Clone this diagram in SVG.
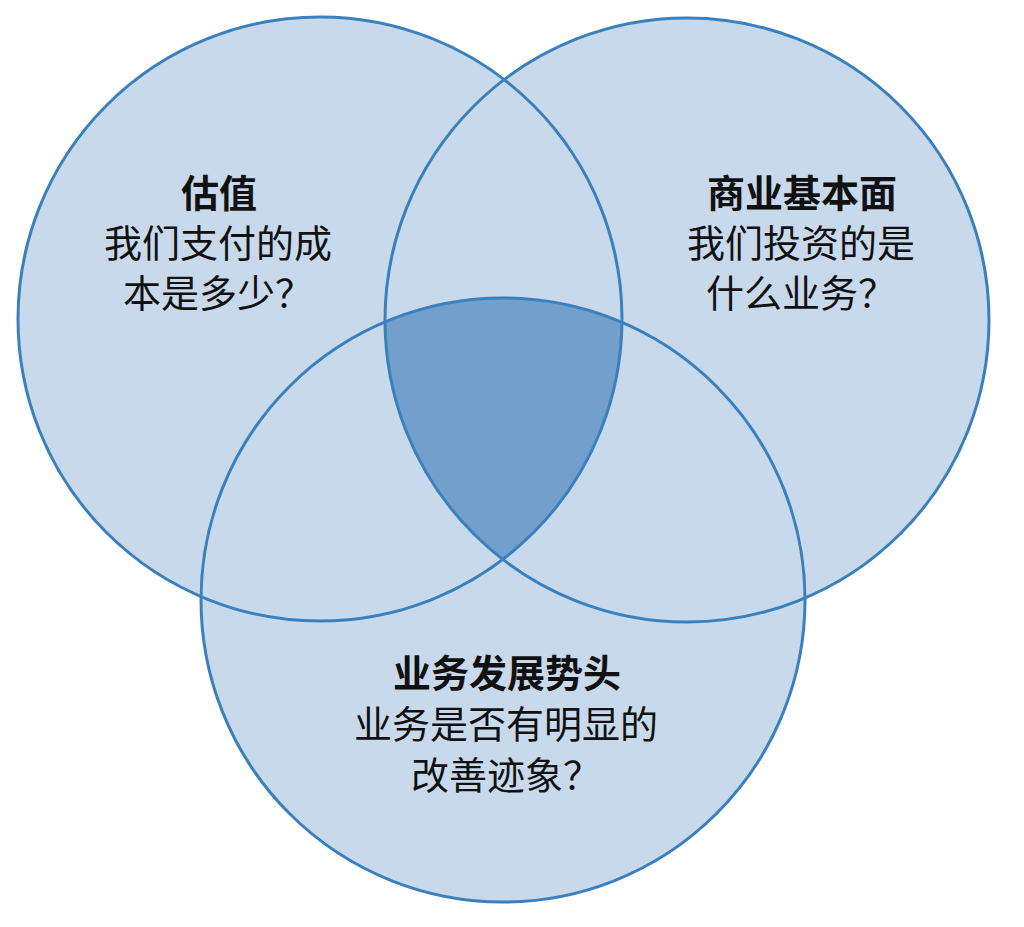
<svg xmlns="http://www.w3.org/2000/svg" width="1024" height="927" viewBox="0 0 1024 927">
  <style>
    .fill { fill: #c9d9ec; stroke: none; }
    .ring { fill: none; stroke: #3a80bd; stroke-width: 3; }
    .core { fill: #739fcd; stroke: none; }
    .t { font-family: "Noto Sans CJK SC", "Noto Sans", sans-serif; font-size: 38px; fill: #111; text-anchor: middle; }
    .b { font-weight: bold; }
  </style>
  <defs>
    <clipPath id="clipL"><circle cx="320" cy="319" r="302"/></clipPath>
    <clipPath id="clipR"><circle cx="687" cy="320" r="302"/></clipPath>
  </defs>
  <rect width="1024" height="927" fill="#ffffff"/>
  <g id="fills">
    <circle class="fill" cx="320" cy="319" r="302"/>
    <circle class="fill" cx="687" cy="320" r="302"/>
    <circle class="fill" cx="503" cy="600" r="302"/>
    <g clip-path="url(#clipL)">
      <g clip-path="url(#clipR)">
        <circle class="core" cx="503" cy="600" r="302"/>
      </g>
    </g>
  </g>
  <g id="valuation">
    <circle class="ring" cx="320" cy="319" r="302"/>
  </g>
  <g id="fundamentals">
    <circle class="ring" cx="687" cy="320" r="302"/>
  </g>
  <g id="momentum">
    <circle class="ring" cx="503" cy="600" r="302"/>
  </g>
  <g id="connectors"></g>
  <g id="labels">
    <text class="t b" x="219" y="207">估值</text>
    <text class="t" x="218" y="257">我们支付的成</text>
    <text class="t" x="218" y="307">本是多少？</text>
    <text class="t b" x="802" y="207">商业基本面</text>
    <text class="t" x="801" y="257">我们投资的是</text>
    <text class="t" x="801" y="307">什么业务？</text>
    <text class="t b" x="507" y="687">业务发展势头</text>
    <text class="t" x="506" y="738">业务是否有明显的</text>
    <text class="t" x="506" y="789">改善迹象？</text>
  </g>
</svg>
